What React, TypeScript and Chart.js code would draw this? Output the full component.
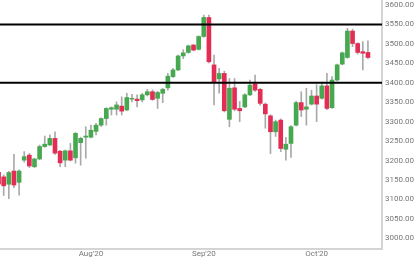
import React, { useEffect, useRef } from "react";
import { Chart, registerables } from "chart.js";

Chart.register(...registerables);

const opens = [3170, 3158, 3139, 3173, 3144, 3201, 3214, 3184, 3204, 3236, 3240, 3257, 3224, 3201, 3225, 3207, 3246, 3260, 3260, 3275, 3291, 3308, 3332, 3332, 3340, 3330, 3358, 3358, 3356, 3369, 3377, 3360, 3373, 3387, 3416, 3433, 3469, 3478, 3497, 3486, 3519, 3568, 3446, 3410, 3424, 3306, 3387, 3334, 3338, 3369, 3397, 3383, 3345, 3315, 3274, 3304, 3229, 3244, 3291, 3349, 3332, 3345, 3366, 3360, 3392, 3336, 3407, 3448, 3465, 3533, 3501, 3480, 3478];
const closes = [3140, 3135, 3169, 3137, 3173, 3210, 3186, 3204, 3236, 3242, 3257, 3219, 3194, 3225, 3201, 3270, 3257, 3263, 3278, 3291, 3308, 3334, 3336, 3343, 3327, 3362, 3360, 3354, 3369, 3377, 3357, 3375, 3383, 3417, 3433, 3469, 3477, 3495, 3484, 3519, 3568, 3454, 3403, 3424, 3328, 3386, 3332, 3328, 3369, 3394, 3381, 3347, 3320, 3274, 3300, 3231, 3242, 3287, 3349, 3330, 3338, 3366, 3345, 3392, 3334, 3407, 3446, 3477, 3533, 3501, 3478, 3476, 3465];
const highs = [3175, 3163, 3172, 3216, 3176, 3223, 3218, 3206, 3240, 3263, 3266, 3274, 3226, 3227, 3244, 3272, 3260, 3287, 3291, 3296, 3310, 3336, 3338, 3351, 3364, 3373, 3370, 3369, 3373, 3383, 3382, 3378, 3386, 3424, 3437, 3471, 3485, 3497, 3499, 3521, 3574, 3574, 3471, 3437, 3430, 3411, 3411, 3352, 3372, 3407, 3420, 3386, 3348, 3318, 3304, 3307, 3260, 3290, 3352, 3377, 3386, 3381, 3395, 3400, 3424, 3416, 3448, 3479, 3540, 3538, 3503, 3506, 3508];
const lows = [3130, 3110, 3102, 3130, 3111, 3196, 3182, 3182, 3202, 3234, 3238, 3216, 3184, 3184, 3199, 3193, 3188, 3206, 3258, 3266, 3288, 3291, 3317, 3317, 3317, 3328, 3351, 3338, 3351, 3366, 3355, 3334, 3349, 3381, 3413, 3431, 3462, 3476, 3482, 3484, 3517, 3451, 3343, 3373, 3325, 3287, 3328, 3300, 3336, 3367, 3378, 3342, 3283, 3218, 3262, 3223, 3201, 3208, 3289, 3313, 3291, 3343, 3300, 3358, 3331, 3334, 3405, 3446, 3463, 3493, 3474, 3433, 3462];

const monthLabels = ["Aug'20", "Sep'20", "Oct'20"];
const monthIndex = [18, 40, 62];

const yTicks = [3000, 3050, 3100, 3150, 3200, 3250, 3300, 3350, 3400, 3450, 3500, 3550, 3600];

const levels = [3550, 3400];

const X_MIN = 0.28;
const X_MAX = 74.74;
const Y_MIN = 2972.5;
const Y_MAX = 3612.9;

const GREEN = "#46a84f";
const RED = "#e42d55";
const WICK = "#a9a9a9";
const AXIS = "#d4d4d4";
const TEXT = "#777777";

export default function App() {
  const ref = useRef<HTMLCanvasElement | null>(null);

  useEffect(() => {
    if (!ref.current) return;
    const idx = opens.map((_, i) => i);
    const wickData = idx.map((i) => ({ x: i, y: [lows[i], highs[i]] }));
    const bodyData = idx.map((i) => ({ x: i, y: [opens[i], closes[i]] }));
    const bodyColors = idx.map((i) => (closes[i] >= opens[i] ? GREEN : RED));

    const levelSets = levels.map((lv) => ({
      type: "line" as const,
      data: [
        { x: X_MIN, y: lv },
        { x: X_MAX, y: lv },
      ],
      borderColor: "#000000",
      borderWidth: 2,
      pointRadius: 0,
      order: 0,
    }));

    const zeroPad = (scale: any) => {
      scale.paddingTop = 0;
      scale.paddingBottom = 0;
      scale.paddingLeft = 0;
      scale.paddingRight = 0;
    };

    const chart = new Chart(ref.current, {
      type: "bar",
      data: {
        datasets: [
          {
            type: "bar",
            data: wickData as any,
            backgroundColor: WICK,
            barThickness: 1,
            grouped: false,
            order: 3,
          } as any,
          {
            type: "bar",
            data: bodyData as any,
            backgroundColor: bodyColors,
            barThickness: 4,
            grouped: false,
            order: 2,
          } as any,
          ...(levelSets as any),
        ],
      },
      options: {
        animation: false,
        responsive: true,
        maintainAspectRatio: false,
        layout: { padding: 0, autoPadding: false },
        plugins: {
          legend: { display: false },
          tooltip: { enabled: false },
        },
        scales: {
          x: {
            type: "linear",
            position: "bottom",
            offset: false,
            min: X_MIN,
            max: X_MAX,
            grid: { display: false, drawTicks: false },
            border: { display: true, color: AXIS, width: 2 },
            afterBuildTicks: (scale: any) => {
              scale.ticks = monthIndex.map((v) => ({ value: v }));
            },
            afterFit: (scale: any) => {
              scale.height = 10;
              zeroPad(scale);
            },
            ticks: {
              padding: 0,
              autoSkip: false,
              maxRotation: 0,
              color: TEXT,
              font: { family: "Roboto", size: 8 },
              callback: (v: any) => {
                const k = monthIndex.indexOf(Number(v));
                return k >= 0 ? monthLabels[k] : "";
              },
            },
          },
          y: {
            type: "linear",
            position: "right",
            min: Y_MIN,
            max: Y_MAX,
            grid: { display: false, drawTicks: false },
            border: { display: true, color: AXIS, width: 2 },
            afterBuildTicks: (scale: any) => {
              scale.ticks = yTicks.map((v) => ({ value: v }));
            },
            afterFit: (scale: any) => {
              scale.width = 38;
              zeroPad(scale);
            },
            ticks: {
              padding: 3,
              color: TEXT,
              font: { family: "Roboto", size: 8 },
              callback: (v: any) => Number(v).toFixed(2),
            },
          },
        },
      },
    });
    return () => chart.destroy();
  }, []);

  return (
    <div style={{ position: "fixed", left: 0, top: 0, width: 420, height: 259, background: "#fff" }}>
      <canvas ref={ref} />
    </div>
  );
}
